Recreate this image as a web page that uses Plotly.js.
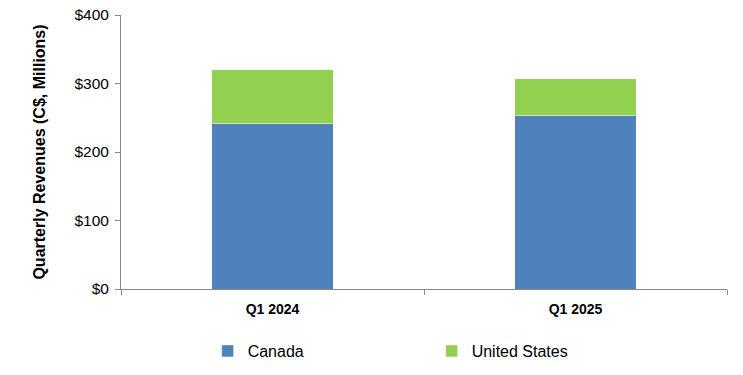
<!DOCTYPE html>
<html>
<head>
<meta charset="utf-8">
<script src="https://cdn.plot.ly/plotly-3.0.1.min.js"></script>
<style>html,body{margin:0;padding:0;background:#fff;}#chart{width:743px;height:375px;}</style>
</head>
<body>
<div id="chart"></div>
<script>
const categories = ["Q1 2024", "Q1 2025"];
const canada = [241, 253];
const unitedStates = [79, 54];
const yTickVals = [0, 100, 200, 300, 400];
const yTickText = ["$0", "$100", "$200", "$300", "$400"];

const font = "Arial, 'Liberation Sans', sans-serif";
const data = [
  {type: "bar", name: "Canada", x: categories, y: canada,
   marker: {color: "#4F81BD", line: {color: "rgba(255,255,255,0.5)", width: 1}}},
  {type: "bar", name: "United States", x: categories, y: unitedStates,
   marker: {color: "#92D050", line: {color: "rgba(255,255,255,0.5)", width: 1}}}
];
const layout = {
  width: 743, height: 375,
  margin: {l: 121, r: 16, t: 15, b: 86, autoexpand: false},
  barmode: "stack", bargap: 0.6,
  paper_bgcolor: "#fff", plot_bgcolor: "#fff",
  font: {family: font, color: "#000", size: 15},
  showlegend: true,
  legend: {orientation: "h", xref: "paper", x: 0.143, xanchor: "left",
           yref: "container", y: 24/375, yanchor: "middle",
           entrywidth: 179, entrywidthmode: "pixels", itemwidth: 30,
           font: {family: font, size: 16, color: "#000"}, traceorder: "normal"},
  xaxis: {type: "category", showline: true, linecolor: "#868686", linewidth: 1,
          ticks: "outside", tickson: "boundaries", ticklen: 5, tickcolor: "#868686",
          ticklabelstandoff: 7, automargin: false,
          tickfont: {family: font, size: 14, color: "#000", weight: "bold"},
          showgrid: false, zeroline: false, fixedrange: true},
  yaxis: {range: [0, 400], tickvals: yTickVals, ticktext: yTickText,
          showline: true, linecolor: "#868686", linewidth: 1,
          ticks: "outside", ticklen: 5, tickcolor: "#868686",
          ticklabelstandoff: 3,
          tickfont: {family: font, size: 15.5, color: "#000"},
          showgrid: false, zeroline: false, automargin: false,
          title: {text: "Quarterly Revenues (C$, Millions)", standoff: 24,
                  font: {family: font, size: 16, color: "#000", weight: "bold"}}}
};
Plotly.newPlot("chart", data, layout, {displayModeBar: false, staticPlot: true});
</script>
</body>
</html>
